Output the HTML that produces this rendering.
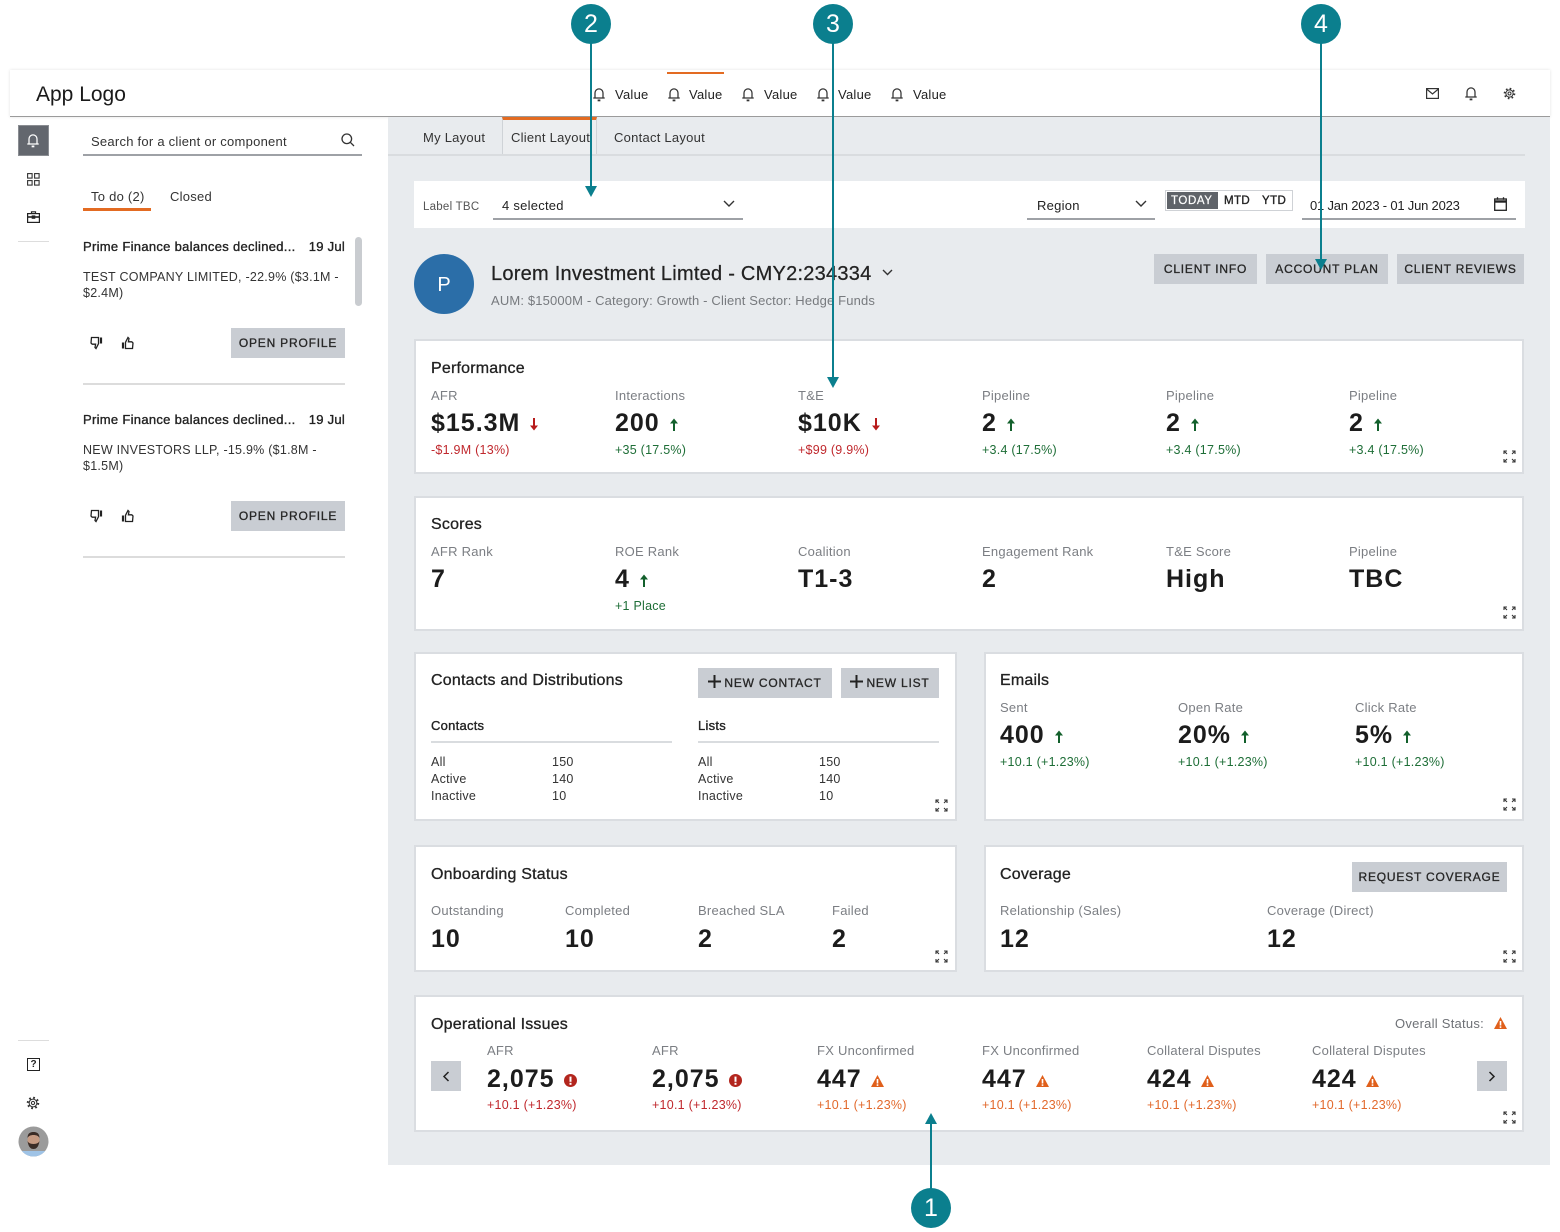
<!DOCTYPE html>
<html><head><meta charset="utf-8"><style>
*{box-sizing:border-box;margin:0;padding:0}
body{width:1560px;height:1232px;overflow:hidden;background:#fff;font-family:"Liberation Sans",Arial,sans-serif;color:#222;position:relative}
.a{position:absolute}
.t{position:absolute;white-space:nowrap;height:20px;line-height:20px;font-size:13px;letter-spacing:.25px;margin-top:1px}
.sb{-webkit-text-stroke:.35px currentColor}
.lbl{color:#7b7e83}
.v{position:absolute;white-space:nowrap;height:30px;line-height:30px;font-size:25px;font-weight:bold;letter-spacing:1px;color:#1c1c1c;margin-top:1px}
.v svg{margin-left:9px;vertical-align:0}
.card{position:absolute;background:#fff;border:2px solid #dadde1}
.btn{position:absolute;background:#c9cdd3;color:#262626;font-size:12px;letter-spacing:.8px;text-align:center;height:30px;line-height:30px;white-space:nowrap;-webkit-text-stroke:.3px #262626}
.red{color:#c0282d}.grn{color:#1e6e37}.org{color:#e2692c}
.ul{position:absolute;height:2px;background:#9ea1a6}
.ct{position:absolute;white-space:nowrap;height:22px;line-height:22px;font-size:16px;letter-spacing:.2px;-webkit-text-stroke:.3px #222;margin-top:2px}
.tl{position:absolute;background:#0b7f8e}
.cc{position:absolute;width:40px;height:40px;border-radius:50%;background:#0b7f8e;color:#fff;font-size:25px;line-height:40px;text-align:center}
</style></head><body>

<!-- header -->
<div class="a" style="left:10px;top:70px;width:1540px;height:47px;background:#fff;box-shadow:0 0 3px rgba(0,0,0,.12);border-bottom:1px solid #9b9b9b"></div>
<div class="t" style="left:36px;top:82px;height:24px;line-height:24px;font-size:21px;letter-spacing:0;color:#1a1a1a">App Logo</div>
<div class="a" style="left:667px;top:72px;width:57px;height:2px;background:#e36b22"></div>

<svg class="a" style="left:592px;top:86px" width="14" height="16" viewBox="0 0 12 14" fill="none" stroke="#333" stroke-width="1.1"><path d="M2.5 10.5V6a3.5 3.5 0 0 1 7 0v4.5M1 10.5h10"/><path d="M4.8 12.6h2.4" stroke-width="1.6"/></svg>
<div class="t" style="left:615px;top:84px">Value</div>
<svg class="a" style="left:667px;top:86px" width="14" height="16" viewBox="0 0 12 14" fill="none" stroke="#333" stroke-width="1.1"><path d="M2.5 10.5V6a3.5 3.5 0 0 1 7 0v4.5M1 10.5h10"/><path d="M4.8 12.6h2.4" stroke-width="1.6"/></svg>
<div class="t" style="left:689px;top:84px">Value</div>
<svg class="a" style="left:741px;top:86px" width="14" height="16" viewBox="0 0 12 14" fill="none" stroke="#333" stroke-width="1.1"><path d="M2.5 10.5V6a3.5 3.5 0 0 1 7 0v4.5M1 10.5h10"/><path d="M4.8 12.6h2.4" stroke-width="1.6"/></svg>
<div class="t" style="left:764px;top:84px">Value</div>
<svg class="a" style="left:816px;top:86px" width="14" height="16" viewBox="0 0 12 14" fill="none" stroke="#333" stroke-width="1.1"><path d="M2.5 10.5V6a3.5 3.5 0 0 1 7 0v4.5M1 10.5h10"/><path d="M4.8 12.6h2.4" stroke-width="1.6"/></svg>
<div class="t" style="left:838px;top:84px">Value</div>
<svg class="a" style="left:890px;top:86px" width="14" height="16" viewBox="0 0 12 14" fill="none" stroke="#333" stroke-width="1.1"><path d="M2.5 10.5V6a3.5 3.5 0 0 1 7 0v4.5M1 10.5h10"/><path d="M4.8 12.6h2.4" stroke-width="1.6"/></svg>
<div class="t" style="left:913px;top:84px">Value</div>

<svg class="a" style="left:1426px;top:88px" width="13" height="11" viewBox="0 0 13 11" fill="none" stroke="#333" stroke-width="1.2"><rect x=".6" y=".6" width="11.8" height="9.8"/><path d="M.6 1l5.9 5 5.9-5"/></svg>
<svg class="a" style="left:1464px;top:85px" width="14" height="16" viewBox="0 0 12 14" fill="none" stroke="#333" stroke-width="1.1"><path d="M2.5 10.5V6a3.5 3.5 0 0 1 7 0v4.5M1 10.5h10"/><path d="M4.8 12.6h2.4" stroke-width="1.6"/></svg>
<svg class="a" style="left:1503px;top:87px" width="13" height="13" viewBox="0 0 13 13" fill="none" stroke="#333"><circle cx="6.5" cy="6.5" r="4.8" stroke-width="2" stroke-dasharray="1.6 2.17"/><circle cx="6.5" cy="6.5" r="3.6" stroke-width="1"/><circle cx="6.5" cy="6.5" r="1.5" stroke-width="1"/></svg>

<!-- sidebar rail -->
<div class="a" style="left:18px;top:125px;width:31px;height:31px;background:#63676e;border:1px solid #8a8d92"></div>
<svg class="a" style="left:26px;top:132px" width="14" height="16" viewBox="0 0 12 14" fill="none" stroke="#fff" stroke-width="1.1"><path d="M2.5 10.5V6a3.5 3.5 0 0 1 7 0v4.5M1 10.5h10"/><path d="M4.8 12.6h2.4" stroke-width="1.6"/></svg>
<svg class="a" style="left:27px;top:173px" width="13" height="13" viewBox="0 0 13 13" fill="none" stroke="#333" stroke-width="1.1"><rect x=".6" y=".6" width="4.5" height="4.5"/><rect x="7.6" y=".6" width="4.5" height="4.5"/><rect x=".6" y="7.6" width="4.5" height="4.5"/><rect x="7.6" y="7.6" width="4.5" height="4.5"/></svg>
<svg class="a" style="left:27px;top:211px" width="13" height="12" viewBox="0 0 13 12" fill="none" stroke="#222" stroke-width="1.2"><path d="M4.5 2.5V.8h4v1.7"/><rect x=".6" y="2.6" width="11.8" height="8.8"/><path d="M.6 6h11.8" stroke-width="1.6"/><rect x="5.3" y="5" width="2.4" height="2.2" fill="#222"/></svg>
<div class="a" style="left:18px;top:241px;width:31px;height:1px;background:#ddd"></div>

<div class="a" style="left:18px;top:1040px;width:31px;height:1px;background:#ddd"></div>
<div class="a" style="left:27px;top:1058px;width:13px;height:13px;border:1.3px solid #222;font-size:10px;line-height:11px;text-align:center;font-weight:bold">?</div>
<svg class="a" style="left:26px;top:1096px" width="14" height="14" viewBox="0 0 13 13" fill="none" stroke="#333"><circle cx="6.5" cy="6.5" r="4.8" stroke-width="2" stroke-dasharray="1.6 2.17"/><circle cx="6.5" cy="6.5" r="3.6" stroke-width="1"/><circle cx="6.5" cy="6.5" r="1.5" stroke-width="1"/></svg>
<svg class="a" style="left:18px;top:1126px" width="31" height="31" viewBox="0 0 31 31"><defs><clipPath id="av"><circle cx="15.5" cy="15.5" r="15"/></clipPath></defs><g clip-path="url(#av)"><rect width="31" height="31" fill="#9b9b9b"/><rect x="4" y="25" width="23" height="8" fill="#9fc3e6"/><ellipse cx="15.5" cy="14.5" rx="6" ry="7.5" fill="#c59a82"/><path d="M9.5 15c1 6 3 8 6 8s5-2 6-8c-1 2-3 3-6 3s-5-1-6-3z" fill="#3a2c26"/><path d="M9.5 12c0-5 3-6 6-6s6 1 6 6c-1-2-3-3-6-3s-5 1-6 3z" fill="#3a2c26"/></g></svg>

<!-- search & tabs -->
<div class="t" style="left:91px;top:131px;color:#333">Search for a client or component</div>
<svg class="a" style="left:341px;top:133px" width="14" height="14" viewBox="0 0 14 14" fill="none" stroke="#333" stroke-width="1.3"><circle cx="5.8" cy="5.8" r="4.8"/><path d="M9.3 9.3L13 13"/></svg>
<div class="ul" style="left:83px;top:154px;width:279px"></div>
<div class="t" style="left:91px;top:186px;color:#333">To do (2)</div>
<div class="t" style="left:170px;top:186px;color:#333">Closed</div>
<div class="a" style="left:83px;top:208px;width:68px;height:3px;background:#e36b22"></div>
<div class="a" style="left:355px;top:237px;width:7px;height:69px;background:#c9ccd0;border-radius:4px"></div>

<!-- item 1 -->
<div class="t sb" style="left:83px;top:236px;letter-spacing:.3px">Prime Finance balances declined...</div>
<div class="t sb" style="right:1215px;top:236px">19 Jul</div>
<div class="t" style="left:83px;top:266px;font-size:12.5px;color:#333">TEST COMPANY LIMITED, -22.9% ($3.1M -</div>
<div class="t" style="left:83px;top:282px;font-size:12.5px;color:#333">$2.4M)</div>
<svg class="a" style="left:90px;top:336px" width="14" height="14" viewBox="0 0 14 14" fill="none" stroke="#222" stroke-width="1.3"><path d="M1.5 1.5h7v6.2L6 12.5 5 11.5 5.6 8.2H2.2L1 7z"/><path d="M11 1.5v6" stroke-width="2.2"/></svg>
<svg class="a" style="left:120px;top:336px;transform:rotate(180deg)" width="14" height="14" viewBox="0 0 14 14" fill="none" stroke="#222" stroke-width="1.3"><path d="M1.5 1.5h7v6.2L6 12.5 5 11.5 5.6 8.2H2.2L1 7z"/><path d="M11 1.5v6" stroke-width="2.2"/></svg>
<div class="btn" style="left:231px;top:328px;width:114px">OPEN PROFILE</div>
<div class="a" style="left:83px;top:383px;width:262px;height:1.5px;background:#dcdcdc"></div>

<!-- item 2 -->
<div class="t sb" style="left:83px;top:409px;letter-spacing:.3px">Prime Finance balances declined...</div>
<div class="t sb" style="right:1215px;top:409px">19 Jul</div>
<div class="t" style="left:83px;top:439px;font-size:12.5px;color:#333">NEW INVESTORS LLP, -15.9% ($1.8M -</div>
<div class="t" style="left:83px;top:455px;font-size:12.5px;color:#333">$1.5M)</div>
<svg class="a" style="left:90px;top:509px" width="14" height="14" viewBox="0 0 14 14" fill="none" stroke="#222" stroke-width="1.3"><path d="M1.5 1.5h7v6.2L6 12.5 5 11.5 5.6 8.2H2.2L1 7z"/><path d="M11 1.5v6" stroke-width="2.2"/></svg>
<svg class="a" style="left:120px;top:509px;transform:rotate(180deg)" width="14" height="14" viewBox="0 0 14 14" fill="none" stroke="#222" stroke-width="1.3"><path d="M1.5 1.5h7v6.2L6 12.5 5 11.5 5.6 8.2H2.2L1 7z"/><path d="M11 1.5v6" stroke-width="2.2"/></svg>
<div class="btn" style="left:231px;top:501px;width:114px">OPEN PROFILE</div>
<div class="a" style="left:83px;top:556px;width:262px;height:1.5px;background:#dcdcdc"></div>

<!-- main grey -->
<div class="a" style="left:388px;top:117px;width:1162px;height:1048px;background:#e8ebee"></div>
<div class="a" style="left:502px;top:117px;width:95px;height:38px;border-left:1px solid #cfd3d7;border-right:1px solid #cfd3d7;border-top:3px solid #e36b22;background:#eceef0"></div>
<div class="t" style="left:423px;top:127px;color:#333">My Layout</div>
<div class="t" style="left:511px;top:127px;color:#333">Client Layout</div>
<div class="t" style="left:614px;top:127px;color:#333">Contact Layout</div>
<div class="a" style="left:388px;top:154px;width:1137px;height:2px;background:#d9dcdf"></div>

<!-- filter -->
<div class="a" style="left:414px;top:181px;width:1111px;height:47px;background:#fff"></div>
<div class="t" style="left:423px;top:196px;font-size:11.5px;color:#555">Label TBC</div>
<div class="t" style="left:502px;top:195px;color:#222">4 selected</div>
<svg class="a" style="left:723px;top:200px" width="12" height="8" viewBox="0 0 12 8" fill="none" stroke="#333" stroke-width="1.4"><path d="M1 1l5 5 5-5"/></svg>
<div class="ul" style="left:493px;top:218px;width:250px"></div>
<div class="t" style="left:1037px;top:195px;color:#222">Region</div>
<svg class="a" style="left:1135px;top:200px" width="12" height="8" viewBox="0 0 12 8" fill="none" stroke="#333" stroke-width="1.4"><path d="M1 1l5 5 5-5"/></svg>
<div class="ul" style="left:1027px;top:218px;width:128px"></div>
<div class="a" style="left:1165px;top:190px;width:128px;height:21px;border:1px solid #cfd2d6;background:#fff"></div>
<div class="a" style="left:1167px;top:192px;width:51px;height:17px;background:#5f6369"></div>
<div class="t" style="left:1171px;top:190px;font-size:11.5px;color:#fff;letter-spacing:.6px;-webkit-text-stroke:.2px #fff">TODAY</div>
<div class="t sb" style="left:1224px;top:190px;font-size:11.5px;letter-spacing:.4px">MTD</div>
<div class="t sb" style="left:1262px;top:190px;font-size:11.5px;letter-spacing:.4px">YTD</div>
<div class="t" style="left:1310px;top:195px;color:#222;letter-spacing:-.2px">01 Jan 2023 - 01 Jun 2023</div>
<svg class="a" style="left:1494px;top:197px" width="13" height="14" viewBox="0 0 13 14" fill="none" stroke="#222" stroke-width="1.3"><rect x=".7" y="2" width="11.6" height="11.3"/><path d="M.7 4.5h11.6" stroke-width="2.4"/><path d="M3.5 .3v2.5M9.5 .3v2.5"/></svg>
<div class="ul" style="left:1302px;top:218px;width:214px"></div>

<!-- client header -->
<div class="a" style="left:414px;top:254px;width:60px;height:60px;border-radius:50%;background:#2b6ea8;color:#fff;font-size:20px;line-height:62px;text-align:center">P</div>
<div class="t" style="left:491px;top:261px;height:24px;line-height:24px;font-size:20px;letter-spacing:.25px;-webkit-text-stroke:.25px #222">Lorem Investment Limted - CMY2:234334</div>
<svg class="a" style="left:882px;top:269px" width="11" height="7" viewBox="0 0 11 7" fill="none" stroke="#333" stroke-width="1.4"><path d="M1 1l4.5 4.5L10 1"/></svg>
<div class="t" style="left:491px;top:290px;color:#777a7e;letter-spacing:.15px">AUM: $15000M - Category: Growth - Client Sector: Hedge Funds</div>
<div class="btn" style="left:1154px;top:254px;width:103px">CLIENT INFO</div>
<div class="btn" style="left:1266px;top:254px;width:122px">ACCOUNT PLAN</div>
<div class="btn" style="left:1397px;top:254px;width:127px">CLIENT REVIEWS</div>

<!-- performance -->
<div class="card" style="left:414px;top:339px;width:1110px;height:135px"></div>
<div class="ct" style="left:431px;top:356px">Performance</div>
<div class="t lbl" style="left:431px;top:385px">AFR</div>
<div class="t lbl" style="left:615px;top:385px">Interactions</div>
<div class="t lbl" style="left:798px;top:385px">T&amp;E</div>
<div class="t lbl" style="left:982px;top:385px">Pipeline</div>
<div class="t lbl" style="left:1166px;top:385px">Pipeline</div>
<div class="t lbl" style="left:1349px;top:385px">Pipeline</div>
<div class="v" style="left:431px;top:407px">$15.3M<svg width="10" height="13" viewBox="0 0 10 13"><path d="M5 0v9" stroke="#b71c1c" stroke-width="2"/><path d="M1 7.5h8L5 12.5z" fill="#b71c1c"/></svg></div>
<div class="v" style="left:615px;top:407px">200<svg width="10" height="13" viewBox="0 0 10 13"><path d="M5 13V4" stroke="#13602c" stroke-width="2"/><path d="M1 5.5h8L5 .5z" fill="#13602c"/></svg></div>
<div class="v" style="left:798px;top:407px">$10K<svg width="10" height="13" viewBox="0 0 10 13"><path d="M5 0v9" stroke="#b71c1c" stroke-width="2"/><path d="M1 7.5h8L5 12.5z" fill="#b71c1c"/></svg></div>
<div class="v" style="left:982px;top:407px">2<svg width="10" height="13" viewBox="0 0 10 13"><path d="M5 13V4" stroke="#13602c" stroke-width="2"/><path d="M1 5.5h8L5 .5z" fill="#13602c"/></svg></div>
<div class="v" style="left:1166px;top:407px">2<svg width="10" height="13" viewBox="0 0 10 13"><path d="M5 13V4" stroke="#13602c" stroke-width="2"/><path d="M1 5.5h8L5 .5z" fill="#13602c"/></svg></div>
<div class="v" style="left:1349px;top:407px">2<svg width="10" height="13" viewBox="0 0 10 13"><path d="M5 13V4" stroke="#13602c" stroke-width="2"/><path d="M1 5.5h8L5 .5z" fill="#13602c"/></svg></div>
<div class="t red" style="left:431px;top:439px;font-size:12.5px">-$1.9M (13%)</div>
<div class="t grn" style="left:615px;top:439px;font-size:12.5px">+35 (17.5%)</div>
<div class="t red" style="left:798px;top:439px;font-size:12.5px">+$99 (9.9%)</div>
<div class="t grn" style="left:982px;top:439px;font-size:12.5px">+3.4 (17.5%)</div>
<div class="t grn" style="left:1166px;top:439px;font-size:12.5px">+3.4 (17.5%)</div>
<div class="t grn" style="left:1349px;top:439px;font-size:12.5px">+3.4 (17.5%)</div>
<svg class="a" style="left:1503px;top:450px" width="13" height="13" viewBox="0 0 13 13" fill="none" stroke="#333" stroke-width="1.1"><path d="M1 4V1h3M1 1l3 3M12 4V1H9M12 1L9 4M1 9v3h3M1 12l3-3M12 9v3H9M12 12L9 9"/></svg>

<!-- scores -->
<div class="card" style="left:414px;top:496px;width:1110px;height:135px"></div>
<div class="ct" style="left:431px;top:512px">Scores</div>
<div class="t lbl" style="left:431px;top:541px">AFR Rank</div>
<div class="t lbl" style="left:615px;top:541px">ROE Rank</div>
<div class="t lbl" style="left:798px;top:541px">Coalition</div>
<div class="t lbl" style="left:982px;top:541px">Engagement Rank</div>
<div class="t lbl" style="left:1166px;top:541px">T&amp;E Score</div>
<div class="t lbl" style="left:1349px;top:541px">Pipeline</div>
<div class="v" style="left:431px;top:563px">7</div>
<div class="v" style="left:615px;top:563px">4<svg width="10" height="13" viewBox="0 0 10 13"><path d="M5 13V4" stroke="#13602c" stroke-width="2"/><path d="M1 5.5h8L5 .5z" fill="#13602c"/></svg></div>
<div class="v" style="left:798px;top:563px">T1-3</div>
<div class="v" style="left:982px;top:563px">2</div>
<div class="v" style="left:1166px;top:563px">High</div>
<div class="v" style="left:1349px;top:563px">TBC</div>
<div class="t grn" style="left:615px;top:595px;font-size:12.5px">+1 Place</div>
<svg class="a" style="left:1503px;top:606px" width="13" height="13" viewBox="0 0 13 13" fill="none" stroke="#333" stroke-width="1.1"><path d="M1 4V1h3M1 1l3 3M12 4V1H9M12 1L9 4M1 9v3h3M1 12l3-3M12 9v3H9M12 12L9 9"/></svg>

<!-- contacts -->
<div class="card" style="left:414px;top:652px;width:543px;height:169px"></div>
<div class="ct" style="left:431px;top:668px">Contacts and Distributions</div>
<div class="btn" style="left:698px;top:668px;width:134px"><svg width="13" height="13" viewBox="0 0 13 13" style="vertical-align:-1px;margin-right:3px"><path d="M6.5 0v13M0 6.5h13" stroke="#222" stroke-width="2"/></svg>NEW CONTACT</div>
<div class="btn" style="left:841px;top:668px;width:98px"><svg width="13" height="13" viewBox="0 0 13 13" style="vertical-align:-1px;margin-right:3px"><path d="M6.5 0v13M0 6.5h13" stroke="#222" stroke-width="2"/></svg>NEW LIST</div>
<div class="t sb" style="left:431px;top:715px">Contacts</div>
<div class="t sb" style="left:698px;top:715px">Lists</div>
<div class="a" style="left:431px;top:741px;width:241px;height:2px;background:#d9dcdf"></div>
<div class="a" style="left:698px;top:741px;width:241px;height:2px;background:#d9dcdf"></div>
<div class="t" style="left:431px;top:751px;font-size:12.5px;color:#333">All</div>
<div class="t" style="left:431px;top:768px;font-size:12.5px;color:#333">Active</div>
<div class="t" style="left:431px;top:785px;font-size:12.5px;color:#333">Inactive</div>
<div class="t" style="left:552px;top:751px;font-size:12.5px;color:#333">150</div>
<div class="t" style="left:552px;top:768px;font-size:12.5px;color:#333">140</div>
<div class="t" style="left:552px;top:785px;font-size:12.5px;color:#333">10</div>
<div class="t" style="left:698px;top:751px;font-size:12.5px;color:#333">All</div>
<div class="t" style="left:698px;top:768px;font-size:12.5px;color:#333">Active</div>
<div class="t" style="left:698px;top:785px;font-size:12.5px;color:#333">Inactive</div>
<div class="t" style="left:819px;top:751px;font-size:12.5px;color:#333">150</div>
<div class="t" style="left:819px;top:768px;font-size:12.5px;color:#333">140</div>
<div class="t" style="left:819px;top:785px;font-size:12.5px;color:#333">10</div>
<svg class="a" style="left:935px;top:799px" width="13" height="13" viewBox="0 0 13 13" fill="none" stroke="#333" stroke-width="1.1"><path d="M1 4V1h3M1 1l3 3M12 4V1H9M12 1L9 4M1 9v3h3M1 12l3-3M12 9v3H9M12 12L9 9"/></svg>

<!-- emails -->
<div class="card" style="left:984px;top:652px;width:540px;height:169px"></div>
<div class="ct" style="left:1000px;top:668px">Emails</div>
<div class="t lbl" style="left:1000px;top:697px">Sent</div>
<div class="t lbl" style="left:1178px;top:697px">Open Rate</div>
<div class="t lbl" style="left:1355px;top:697px">Click Rate</div>
<div class="v" style="left:1000px;top:719px">400<svg width="10" height="13" viewBox="0 0 10 13"><path d="M5 13V4" stroke="#13602c" stroke-width="2"/><path d="M1 5.5h8L5 .5z" fill="#13602c"/></svg></div>
<div class="v" style="left:1178px;top:719px">20%<svg width="10" height="13" viewBox="0 0 10 13"><path d="M5 13V4" stroke="#13602c" stroke-width="2"/><path d="M1 5.5h8L5 .5z" fill="#13602c"/></svg></div>
<div class="v" style="left:1355px;top:719px">5%<svg width="10" height="13" viewBox="0 0 10 13"><path d="M5 13V4" stroke="#13602c" stroke-width="2"/><path d="M1 5.5h8L5 .5z" fill="#13602c"/></svg></div>
<div class="t grn" style="left:1000px;top:751px;font-size:12.5px">+10.1 (+1.23%)</div>
<div class="t grn" style="left:1178px;top:751px;font-size:12.5px">+10.1 (+1.23%)</div>
<div class="t grn" style="left:1355px;top:751px;font-size:12.5px">+10.1 (+1.23%)</div>
<svg class="a" style="left:1503px;top:798px" width="13" height="13" viewBox="0 0 13 13" fill="none" stroke="#333" stroke-width="1.1"><path d="M1 4V1h3M1 1l3 3M12 4V1H9M12 1L9 4M1 9v3h3M1 12l3-3M12 9v3H9M12 12L9 9"/></svg>

<!-- onboarding -->
<div class="card" style="left:414px;top:845px;width:543px;height:127px"></div>
<div class="ct" style="left:431px;top:862px">Onboarding Status</div>
<div class="t lbl" style="left:431px;top:900px">Outstanding</div>
<div class="t lbl" style="left:565px;top:900px">Completed</div>
<div class="t lbl" style="left:698px;top:900px">Breached SLA</div>
<div class="t lbl" style="left:832px;top:900px">Failed</div>
<div class="v" style="left:431px;top:923px">10</div>
<div class="v" style="left:565px;top:923px">10</div>
<div class="v" style="left:698px;top:923px">2</div>
<div class="v" style="left:832px;top:923px">2</div>
<svg class="a" style="left:935px;top:950px" width="13" height="13" viewBox="0 0 13 13" fill="none" stroke="#333" stroke-width="1.1"><path d="M1 4V1h3M1 1l3 3M12 4V1H9M12 1L9 4M1 9v3h3M1 12l3-3M12 9v3H9M12 12L9 9"/></svg>

<!-- coverage -->
<div class="card" style="left:984px;top:845px;width:540px;height:127px"></div>
<div class="ct" style="left:1000px;top:862px">Coverage</div>
<div class="btn" style="left:1352px;top:862px;width:155px">REQUEST COVERAGE</div>
<div class="t lbl" style="left:1000px;top:900px">Relationship (Sales)</div>
<div class="t lbl" style="left:1267px;top:900px">Coverage (Direct)</div>
<div class="v" style="left:1000px;top:923px">12</div>
<div class="v" style="left:1267px;top:923px">12</div>
<svg class="a" style="left:1503px;top:950px" width="13" height="13" viewBox="0 0 13 13" fill="none" stroke="#333" stroke-width="1.1"><path d="M1 4V1h3M1 1l3 3M12 4V1H9M12 1L9 4M1 9v3h3M1 12l3-3M12 9v3H9M12 12L9 9"/></svg>

<!-- operational -->
<div class="card" style="left:414px;top:995px;width:1110px;height:137px"></div>
<div class="ct" style="left:431px;top:1012px">Operational Issues</div>
<div class="t" style="right:76px;top:1013px;color:#6e7176">Overall Status:</div>
<svg class="a" style="left:1494px;top:1017px" width="13" height="12" viewBox="0 0 13 12"><path d="M6.5 0L13 12H0z" fill="#e0601c"/><rect x="5.7" y="4" width="1.6" height="4.5" fill="#fff"/><rect x="5.7" y="9.3" width="1.6" height="1.6" fill="#fff"/></svg>
<div class="a" style="left:431px;top:1061px;width:30px;height:30px;background:#c9cdd3"></div>
<svg class="a" style="left:442px;top:1071px" width="8" height="11" viewBox="0 0 8 11" fill="none" stroke="#222" stroke-width="1.5"><path d="M6.5 1L2 5.5 6.5 10"/></svg>
<div class="a" style="left:1477px;top:1061px;width:30px;height:30px;background:#c9cdd3"></div>
<svg class="a" style="left:1488px;top:1071px" width="8" height="11" viewBox="0 0 8 11" fill="none" stroke="#222" stroke-width="1.5"><path d="M1.5 1L6 5.5 1.5 10"/></svg>

<div class="t lbl" style="left:487px;top:1040px">AFR</div>
<div class="t lbl" style="left:652px;top:1040px">AFR</div>
<div class="t lbl" style="left:817px;top:1040px">FX Unconfirmed</div>
<div class="t lbl" style="left:982px;top:1040px">FX Unconfirmed</div>
<div class="t lbl" style="left:1147px;top:1040px">Collateral Disputes</div>
<div class="t lbl" style="left:1312px;top:1040px">Collateral Disputes</div>
<div class="v" style="left:487px;top:1063px">2,075<svg width="13" height="13" viewBox="0 0 13 13"><circle cx="6.5" cy="6.5" r="6.5" fill="#b3261e"/><rect x="5.5" y="2.6" width="2" height="5.2" fill="#fff"/><rect x="5.5" y="8.8" width="2" height="2" fill="#fff"/></svg></div>
<div class="v" style="left:652px;top:1063px">2,075<svg width="13" height="13" viewBox="0 0 13 13"><circle cx="6.5" cy="6.5" r="6.5" fill="#b3261e"/><rect x="5.5" y="2.6" width="2" height="5.2" fill="#fff"/><rect x="5.5" y="8.8" width="2" height="2" fill="#fff"/></svg></div>
<div class="v" style="left:817px;top:1063px">447<svg width="13" height="12" viewBox="0 0 13 12"><path d="M6.5 0L13 12H0z" fill="#e0601c"/><rect x="5.7" y="4" width="1.6" height="4.5" fill="#fff"/><rect x="5.7" y="9.3" width="1.6" height="1.6" fill="#fff"/></svg></div>
<div class="v" style="left:982px;top:1063px">447<svg width="13" height="12" viewBox="0 0 13 12"><path d="M6.5 0L13 12H0z" fill="#e0601c"/><rect x="5.7" y="4" width="1.6" height="4.5" fill="#fff"/><rect x="5.7" y="9.3" width="1.6" height="1.6" fill="#fff"/></svg></div>
<div class="v" style="left:1147px;top:1063px">424<svg width="13" height="12" viewBox="0 0 13 12"><path d="M6.5 0L13 12H0z" fill="#e0601c"/><rect x="5.7" y="4" width="1.6" height="4.5" fill="#fff"/><rect x="5.7" y="9.3" width="1.6" height="1.6" fill="#fff"/></svg></div>
<div class="v" style="left:1312px;top:1063px">424<svg width="13" height="12" viewBox="0 0 13 12"><path d="M6.5 0L13 12H0z" fill="#e0601c"/><rect x="5.7" y="4" width="1.6" height="4.5" fill="#fff"/><rect x="5.7" y="9.3" width="1.6" height="1.6" fill="#fff"/></svg></div>
<div class="t red" style="left:487px;top:1094px;font-size:12.5px">+10.1 (+1.23%)</div>
<div class="t red" style="left:652px;top:1094px;font-size:12.5px">+10.1 (+1.23%)</div>
<div class="t org" style="left:817px;top:1094px;font-size:12.5px">+10.1 (+1.23%)</div>
<div class="t org" style="left:982px;top:1094px;font-size:12.5px">+10.1 (+1.23%)</div>
<div class="t org" style="left:1147px;top:1094px;font-size:12.5px">+10.1 (+1.23%)</div>
<div class="t org" style="left:1312px;top:1094px;font-size:12.5px">+10.1 (+1.23%)</div>
<svg class="a" style="left:1503px;top:1111px" width="13" height="13" viewBox="0 0 13 13" fill="none" stroke="#333" stroke-width="1.1"><path d="M1 4V1h3M1 1l3 3M12 4V1H9M12 1L9 4M1 9v3h3M1 12l3-3M12 9v3H9M12 12L9 9"/></svg>

<!-- callouts -->
<div class="tl" style="left:590px;top:40px;width:2px;height:150px"></div>
<svg class="a" style="left:585px;top:186px" width="12" height="12" viewBox="0 0 12 12"><path d="M0 0h12L6 11z" fill="#0b7f8e"/></svg>
<div class="cc" style="left:571px;top:4px">2</div>

<div class="tl" style="left:832px;top:40px;width:2px;height:340px"></div>
<svg class="a" style="left:827px;top:377px" width="12" height="12" viewBox="0 0 12 12"><path d="M0 0h12L6 11z" fill="#0b7f8e"/></svg>
<div class="cc" style="left:813px;top:4px">3</div>

<div class="tl" style="left:1320px;top:40px;width:2px;height:222px"></div>
<svg class="a" style="left:1315px;top:259px" width="12" height="12" viewBox="0 0 12 12"><path d="M0 0h12L6 11z" fill="#0b7f8e"/></svg>
<div class="cc" style="left:1301px;top:4px">4</div>

<div class="tl" style="left:930px;top:1122px;width:2px;height:70px"></div>
<svg class="a" style="left:925px;top:1113px" width="12" height="12" viewBox="0 0 12 12"><path d="M0 11h12L6 0z" fill="#0b7f8e"/></svg>
<div class="cc" style="left:911px;top:1188px">1</div>

</body></html>
